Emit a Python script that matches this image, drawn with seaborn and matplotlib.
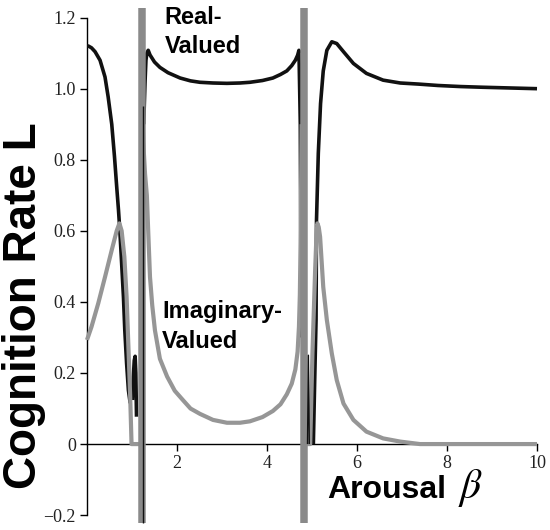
import numpy as np
import pandas as pd
import matplotlib
matplotlib.use("Agg")
import matplotlib.pyplot as plt
import seaborn as sns

# ---------------- data ----------------
# real-valued branch (black)
real_a_x = [0.0, 0.03, 0.10, 0.18, 0.29, 0.40, 0.47, 0.55, 0.61, 0.66, 0.70,
            0.73, 0.77, 0.81, 0.84, 0.88, 0.92, 0.96]
real_a_y = [1.12, 1.12, 1.115, 1.104, 1.08, 1.033, 0.977, 0.90, 0.81, 0.724,
            0.658, 0.60, 0.508, 0.414, 0.32, 0.227, 0.152, 0.115]
real_b_x = [1.01, 1.03, 1.05, 1.07, 1.085, 1.10]
real_b_y = [0.124, 0.19, 0.235, 0.247, 0.20, 0.077]
real_c_x = [1.26, 1.29, 1.31, 1.33, 1.36, 1.40, 1.50, 1.62, 1.80, 2.07, 2.30,
            2.51, 2.80, 3.11, 3.40, 3.62, 3.90, 4.13, 4.30, 4.44, 4.55, 4.63,
            4.68, 4.71, 4.74, 4.76]
real_c_y = [0.90, 1.02, 1.08, 1.10, 1.108, 1.095, 1.075, 1.06, 1.045, 1.03,
            1.022, 1.018, 1.016, 1.015, 1.016, 1.018, 1.023, 1.03, 1.04, 1.05,
            1.065, 1.08, 1.094, 1.108, 0.90, 0.30]
real_d_x = [5.03, 5.06, 5.09, 5.10, 5.14, 5.19, 5.25, 5.33, 5.44, 5.55, 5.70,
            5.92, 6.21, 6.58, 6.96, 7.36, 7.80, 8.30, 8.80, 9.40, 10.0]
real_d_y = [0.0, 0.18, 0.35, 0.63, 0.818, 0.958, 1.05, 1.108, 1.132, 1.127,
            1.104, 1.071, 1.043, 1.024, 1.016, 1.013, 1.009, 1.006, 1.004,
            1.002, 1.0]
# thin black asymptote traces
thin_1_x = [1.24, 1.24]
thin_1_y = [-0.222, 0.95]
thin_2_x = [4.90, 4.92, 4.94]
thin_2_y = [0.0, 0.25, 0.0]

# imaginary-valued branch (grey)
imag_a_x = [0.0, 0.10, 0.25, 0.40, 0.55, 0.66, 0.72, 0.77, 0.83, 0.88, 0.92,
            0.96, 0.99, 1.20]
imag_a_y = [0.293, 0.33, 0.396, 0.47, 0.546, 0.60, 0.621, 0.60, 0.527, 0.414,
            0.274, 0.133, 0.0, 0.0]
imag_b_x = [1.22, 1.25, 1.29, 1.33, 1.36, 1.40, 1.45, 1.51, 1.62, 1.78, 1.95,
            2.13, 2.30, 2.51, 2.80, 3.11, 3.40, 3.62, 3.90, 4.13, 4.30, 4.44,
            4.55, 4.63, 4.68, 4.71, 4.73, 4.75, 4.77]
imag_b_y = [0.98, 0.85, 0.76, 0.70, 0.60, 0.47, 0.39, 0.32, 0.24, 0.19, 0.15,
            0.124, 0.10, 0.085, 0.068, 0.06, 0.06, 0.064, 0.076, 0.093, 0.112,
            0.14, 0.17, 0.21, 0.26, 0.33, 0.42, 0.60, 0.90]
imag_c_x = [4.82, 4.96, 5.01, 5.07, 5.10, 5.12, 5.15, 5.18, 5.25, 5.33, 5.44,
            5.55, 5.70, 5.92, 6.21, 6.58, 6.96, 7.40, 8.0, 10.0]
imag_c_y = [0.0, 0.0, 0.256, 0.49, 0.59, 0.621, 0.61, 0.583, 0.442, 0.349,
            0.255, 0.18, 0.114, 0.068, 0.035, 0.016, 0.007, 0.0, 0.0, 0.0]

# asymptote bars
bar_x = [1.227, 4.815]
bar_lo = -0.222
bar_hi = 1.226

x_ticks = [2, 4, 6, 8, 10]
x_tick_labels = ["2", "4", "6", "8", "10"]
y_ticks = [-0.2, 0, 0.2, 0.4, 0.6, 0.8, 1.0, 1.2]
y_tick_labels = ["\u22120.2", "0", "0.2", "0.4", "0.6", "0.8", "1.0", "1.2"]

# ---------------- drawing ----------------
sns.set_style("white")
plt.rcParams["mathtext.fontset"] = "stix"

fig = plt.figure(figsize=(5.5, 5.3), dpi=100)
ax = fig.add_axes([87 / 550, 0.0079, 450 / 550, 0.979])

BLACK = "#111111"
GREY = "#969696"
BARGREY = "#8a8a8a"

def seg(xs, ys, color, lw, z):
    df = pd.DataFrame({"x": xs, "y": ys})
    sns.lineplot(data=df, x="x", y="y", sort=False, estimator=None,
                 color=color, lw=lw, ax=ax, zorder=z, clip_on=False,
                 solid_capstyle="butt", solid_joinstyle="round")

for xs, ys in [(real_a_x, real_a_y), (real_b_x, real_b_y),
               (real_c_x, real_c_y), (real_d_x, real_d_y)]:
    seg(xs, ys, BLACK, 2.6, 2)
for xs, ys in [(imag_a_x, imag_a_y), (imag_b_x, imag_b_y), (imag_c_x, imag_c_y)]:
    seg(xs, ys, GREY, 3.0, 3)

ax.vlines(bar_x, bar_lo, bar_hi, colors=BARGREY, lw=5.4, zorder=4, clip_on=False)

seg(thin_1_x, thin_1_y, BLACK, 1.0, 5)
seg(thin_2_x, thin_2_y, BLACK, 1.0, 5)

ax.set_xlim(0, 10)
ax.set_ylim(-0.23, 1.23)
ax.set_xlabel("")
ax.set_ylabel("")

for s in ["top", "right"]:
    ax.spines[s].set_visible(False)
ax.spines["bottom"].set_position(("data", 0))
ax.spines["bottom"].set_bounds(0, 10)
ax.spines["left"].set_bounds(-0.2, 1.2)
for s in ["bottom", "left"]:
    ax.spines[s].set_color("black")
    ax.spines[s].set_linewidth(1.0)
    ax.spines[s].set_zorder(1)

tick_font = dict(family="Liberation Serif", size=13, color="#222222")
ax.set_xticks(x_ticks)
ax.set_xticklabels(x_tick_labels, fontdict=tick_font)
ax.set_yticks(y_ticks)
ax.set_yticklabels(y_tick_labels, fontdict=tick_font)
ax.tick_params(axis="both", direction="out", length=5, width=1, color="black",
               pad=3, bottom=True, left=True)

bold = dict(family="Liberation Sans", weight="bold", color="black")
ax.text(1.73, 1.181, "Real-", fontsize=17, ha="left", va="baseline", **bold)
ax.text(1.73, 1.100, "Valued", fontsize=17, ha="left", va="baseline", **bold)
ax.text(1.67, 0.354, "Imaginary-", fontsize=17, ha="left", va="baseline", **bold)
ax.text(1.67, 0.270, "Valued", fontsize=17, ha="left", va="baseline", **bold)

fig.text(0.044, 0.424, "Cognition Rate L", rotation=90, ha="center",
         va="center", fontsize=33, **bold)
fig.text(327 / 550, (530 - 498) / 530, "Arousal", ha="left", va="baseline",
         fontsize=23, **bold)
fig.text(458 / 550, (530 - 498) / 530, r"$\beta$", ha="left", va="baseline",
         fontsize=30, color="black")

fig.savefig("out.png", dpi=100)
